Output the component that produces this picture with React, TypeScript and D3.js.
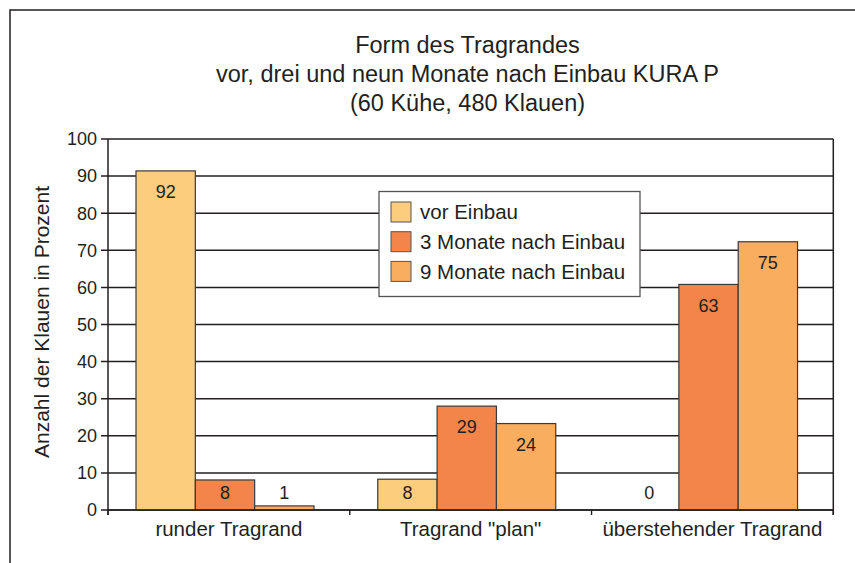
import React from 'react';
import * as d3 from 'd3';

// chart data
const categories = ['runder Tragrand', 'Tragrand "plan"', 'überstehender Tragrand'];
const seriesNames = ['vor Einbau', '3 Monate nach Einbau', '9 Monate nach Einbau'];
const seriesColors = ['#fccd7d', '#f3844a', '#f9ae5f'];

// bar heights as drawn in the picture
const vorEinbau = [91.4, 8.3, 0];
const nach3Monaten = [8.1, 28.0, 60.8];
const nach9Monaten = [1.1, 23.3, 72.3];

// value labels as printed on the bars
const labelsVor = ['92', '8', '0'];
const labels3 = ['8', '29', '63'];
const labels9 = ['1', '24', '75'];

const yTicks = [0, 10, 20, 30, 40, 50, 60, 70, 80, 90, 100];
const titleLines = [
  'Form des Tragrandes',
  'vor, drei und neun Monate nach Einbau KURA P',
  '(60 Kühe, 480 Klauen)',
];
const yAxisTitle = 'Anzahl der Klauen in Prozent';

const W = 855;
const H = 563;
const plot = { left: 108, right: 833.3, top: 139, bottom: 510 };
const ink = '#231f20';
const font = '"Liberation Sans", Arial, Helvetica, sans-serif';

export default function App() {
  const values = [vorEinbau, nach3Monaten, nach9Monaten];
  const labels = [labelsVor, labels3, labels9];

  const x0 = d3.scaleBand<string>().domain(categories).range([plot.left, plot.right]).padding(0);
  const groupWidth = 178;
  const groupOffset = 28;
  const x1 = d3.scaleBand<string>().domain(seriesNames).range([groupOffset, groupOffset + groupWidth]).padding(0);
  const y = d3.scaleLinear().domain([0, 100]).range([plot.bottom, plot.top]);

  const catTicks = [...categories.map((c) => x0(c) as number), plot.right];

  return (
    <svg
      width={W}
      height={H}
      style={{ position: 'absolute', left: 0, top: 0, background: '#fff' }}
      fontFamily={font}
    >
      <rect x={0} y={0} width={W} height={H} fill="#fff" />
      {/* outer frame, runs off the picture right and bottom */}
      <path d={`M10,${H + 5} V10 H${W + 5}`} fill="none" stroke={ink} strokeWidth={1.5} />

      {/* title */}
      {titleLines.map((t, i) => (
        <text key={t} x={467.5} y={53 + i * 29} textAnchor="middle" fontSize={23.5} fill={ink}>
          {t}
        </text>
      ))}

      {/* gridlines */}
      {yTicks.map((t) => (
        <g key={t}>
          <line x1={plot.left - 7} x2={plot.right} y1={y(t)} y2={y(t)} stroke={ink} strokeWidth={1.5} />
          <text x={97} y={y(t)} dy="0.35em" textAnchor="end" fontSize={18} fill={ink}>
            {t}
          </text>
        </g>
      ))}

      {/* bars */}
      {categories.map((c, ci) => (
        <g key={c} transform={`translate(${x0(c)},0)`}>
          {seriesNames.map((s, si) => {
            const v = values[si][ci];
            const bx = x1(s) as number;
            const bw = x1.bandwidth();
            const top = y(v);
            const ly = Math.min(top + 21, 493);
            return (
              <g key={s}>
                {v > 0 && (
                  <rect
                    x={bx}
                    y={top}
                    width={bw}
                    height={plot.bottom - top}
                    fill={seriesColors[si]}
                    stroke="#3a3a3a"
                    strokeWidth={1.2}
                  />
                )}
                <text x={bx + bw / 2} y={ly} dy="0.35em" textAnchor="middle" fontSize={18} fill={ink}>
                  {labels[si][ci]}
                </text>
              </g>
            );
          })}
        </g>
      ))}

      {/* axes */}
      <line x1={plot.left} x2={plot.left} y1={plot.top} y2={plot.bottom + 5} stroke={ink} strokeWidth={1.5} />
      <line x1={plot.right} x2={plot.right} y1={plot.top} y2={plot.bottom + 5} stroke={ink} strokeWidth={1.5} />
      <line x1={plot.left} x2={plot.right} y1={plot.bottom} y2={plot.bottom} stroke={ink} strokeWidth={1.5} />
      {catTicks.map((t, i) => (
        <line key={i} x1={t} x2={t} y1={plot.bottom} y2={plot.bottom + 5} stroke={ink} strokeWidth={1.4} />
      ))}
      {categories.map((c) => (
        <text
          key={c}
          x={(x0(c) as number) + x0.bandwidth() / 2}
          y={536}
          textAnchor="middle"
          fontSize={20.5}
          fill={ink}
        >
          {c}
        </text>
      ))}

      <text
        transform={`translate(49,322) rotate(-90)`}
        textAnchor="middle"
        fontSize={21}
        fill={ink}
      >
        {yAxisTitle}
      </text>

      {/* legend */}
      <g>
        <rect x={379} y={191.5} width={261} height={105} fill="#fff" stroke="#555" strokeWidth={1.3} />
        {seriesNames.map((s, i) => (
          <g key={s} transform={`translate(391,${212 + i * 29.7})`}>
            <rect x={0} y={-10} width={20} height={20} fill={seriesColors[i]} stroke="#555" strokeWidth={1} />
            <text x={29} y={0} dy="0.35em" fontSize={20.5} fill={ink}>
              {s}
            </text>
          </g>
        ))}
      </g>
    </svg>
  );
}
